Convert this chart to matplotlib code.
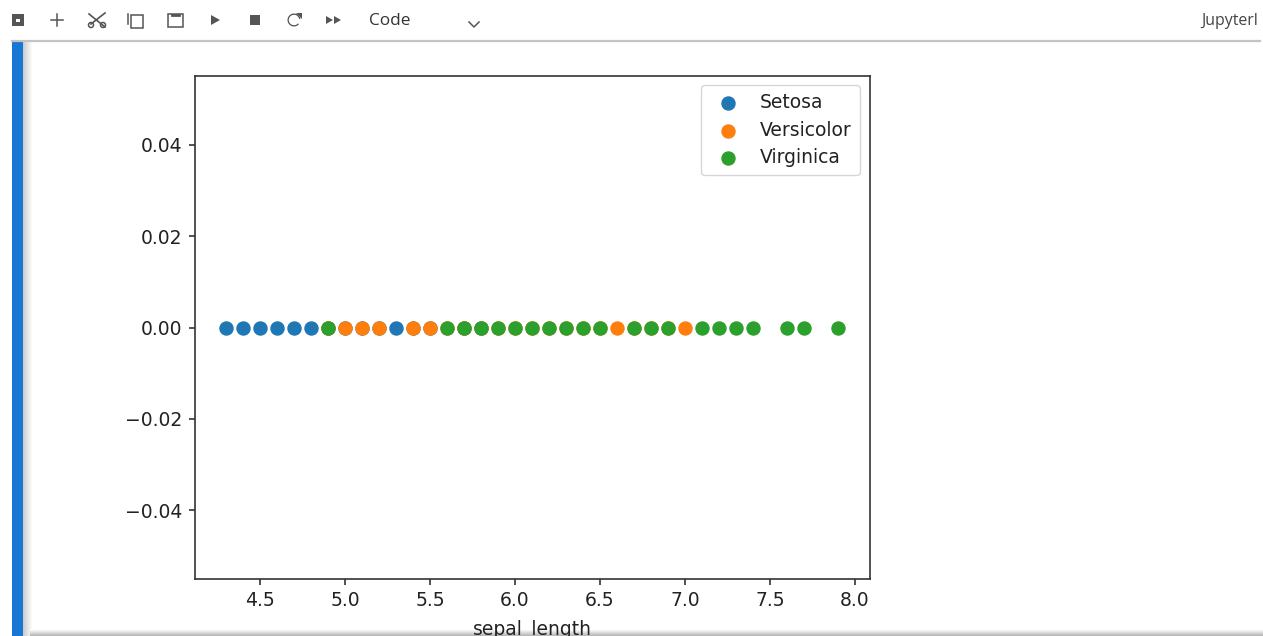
import numpy as np
import matplotlib
matplotlib.use("Agg")
import matplotlib.pyplot as plt
from matplotlib.patches import Rectangle, Polygon, Circle, Wedge

# unique sepal lengths per species
setosa = [4.3, 4.4, 4.5, 4.6, 4.7, 4.8, 4.9, 5.0, 5.1, 5.2, 5.3, 5.4, 5.5, 5.7, 5.8]
versicolor = [4.9, 5.0, 5.1, 5.2, 5.4, 5.5, 5.6, 5.7, 5.8, 5.9, 6.0, 6.1, 6.2, 6.3,
              6.4, 6.5, 6.6, 6.7, 6.8, 6.9, 7.0]
virginica = [4.9, 5.6, 5.7, 5.8, 5.9, 6.0, 6.1, 6.2, 6.3, 6.4, 6.5, 6.7, 6.8, 6.9,
             7.1, 7.2, 7.3, 7.4, 7.6, 7.7, 7.9]
species = ["Setosa", "Versicolor", "Virginica"]
xticks = [4.5, 5.0, 5.5, 6.0, 6.5, 7.0, 7.5, 8.0]
yticks = [-0.04, -0.02, 0.0, 0.02, 0.04]

W, H = 1263, 636
fig = plt.figure(figsize=(W / 100, H / 100), dpi=100, facecolor="white")

# plot area, pixel box
ax = fig.add_axes([195 / W, 1 - 579 / H, (870 - 195) / W, (579 - 76) / H])
for name, vals in zip(species, [setosa, versicolor, virginica]):
    ax.scatter(vals, np.zeros(len(vals)), s=88, label=name)
ax.set_xlim(4.118, 8.088)
ax.set_ylim(-0.055, 0.055)
ax.set_xticks(xticks)
ax.set_yticks(yticks)
ax.tick_params(labelsize=13.5, length=4, width=1.1, pad=5, colors="#222222")
for s in ax.spines.values():
    s.set_linewidth(1.2)
    s.set_color("#333333")
ax.set_xlabel("sepal_length", fontsize=13.5, color="#222222", labelpad=6.5)
ax.legend(loc="upper right", fontsize=13.5, bbox_to_anchor=(0.985, 0.982),
          borderaxespad=0, borderpad=0.43, labelspacing=0.46, handletextpad=0.72,
          labelcolor="#222222")

# notebook chrome drawn behind the plot in pixel coordinates
ui = fig.add_axes([0, 0, 1, 1], zorder=-1)
ui.set_xlim(0, W)
ui.set_ylim(H, 0)
ui.axis("off")

ui.add_patch(Rectangle((12, 41), 11, H - 41, color="#1976d2", lw=0))
ui.imshow(np.linspace(0.8, 1, 10).reshape(1, -1), cmap="gray", vmin=0, vmax=1,
          extent=(23, 33, H, 41), aspect="auto")
ui.imshow(np.linspace(1, 0.72, 7).reshape(-1, 1), cmap="gray", vmin=0, vmax=1,
          extent=(30, 1263, 636, 629), aspect="auto")
ui.plot([12, 1260], [40.5, 40.5], color="#c4c4c4", lw=1.6)
ui.set_xlim(0, W)
ui.set_ylim(H, 0)

icon = "#555555"
# save
ui.add_patch(Rectangle((12, 14), 12, 12, color=icon, lw=0))
ui.add_patch(Rectangle((16, 19), 4, 3, color="white", lw=0))
# add
ui.plot([51, 63], [20, 20], color=icon, lw=1.1)
ui.plot([57, 57], [14, 26], color=icon, lw=1.1)
# cut
ui.plot([89, 105], [14, 27], color=icon, lw=1.2)
ui.plot([105, 91], [13, 24], color=icon, lw=1.2)
ui.add_patch(Circle((91, 25), 2.5, fill=False, ec=icon, lw=1.1))
ui.add_patch(Circle((103, 25), 2.5, fill=False, ec=icon, lw=1.1))
# copy
ui.plot([128, 128], [14, 24], color=icon, lw=1.1)
ui.add_patch(Rectangle((131, 15), 12, 13, fill=False, ec=icon, lw=1.1))
# paste
ui.add_patch(Rectangle((168, 14), 15, 13, fill=False, ec=icon, lw=1.1))
ui.plot([172, 179], [15, 15], color=icon, lw=2)
# run, stop
ui.add_patch(Polygon([(211, 15), (211, 25), (220, 20)], color=icon, lw=0))
ui.add_patch(Rectangle((250, 15), 10, 10, color=icon, lw=0))
# restart
ui.add_patch(Wedge((294, 20), 6.5, 40, 350, width=1.3, color=icon, lw=0))
ui.add_patch(Polygon([(296, 13), (302, 13), (302, 19)], color=icon, lw=0))
# fast forward
ui.add_patch(Polygon([(326, 16), (326, 24), (333, 20)], color=icon, lw=0))
ui.add_patch(Polygon([(334, 16), (334, 24), (341, 20)], color=icon, lw=0))
ui.text(369, 21, "Code", fontsize=12.4, family="Open Sans", color="#333333", va="center")
ui.plot([469, 474, 479], [22, 27, 22], color=icon, lw=1.1)
ui.text(1201, 21, "Jupyterl", fontsize=11.4, family="Open Sans", color="#444444", va="center")

fig.savefig("out.png", dpi=100)
